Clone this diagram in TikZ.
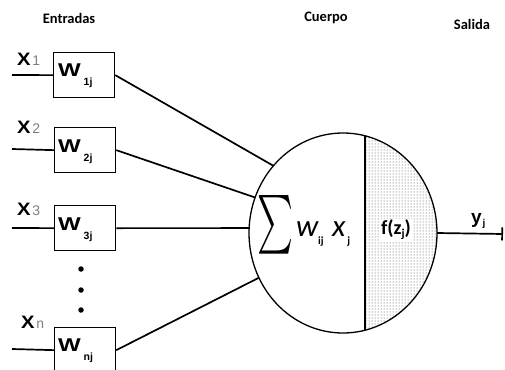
\documentclass[tikz,border=0pt]{standalone}
\usepackage{fontspec}
\usepackage{graphicx}
\setmainfont{Carlito}
\newfontfamily\arialfont{Liberation Sans}
\usetikzlibrary{shapes.geometric,patterns,arrows.meta}

% weight label: wide bold W with a lowered bold subscript
\newcommand\weightlabel[1]{\scalebox{1.3}[1]{\arialfont\bfseries\fontsize{18.5}{18.5}\selectfont W}\hspace{3pt}\raisebox{-9.5pt}{\arialfont\bfseries\fontsize{10.5}{10.5}\selectfont #1}}
% input label: bold X with a grey index
\newcommand\inputlabel[1]{\scalebox{1.12}[1]{\arialfont\bfseries\fontsize{18}{18}\selectfont X}\hspace{2pt}{\color{gray}\arialfont\fontsize{14}{14}\selectfont #1}}

\begin{document}
\begin{tikzpicture}[x=1pt,y=-1pt,
  wire/.style={line width=1.7pt},
  wbox/.style={draw,line width=1.3pt,minimum width=61pt,minimum height=45pt,
    inner sep=0pt,anchor=north west},
  plain/.style={inner sep=0pt,outer sep=0pt,anchor=base west},
  heading/.style={inner sep=0pt,anchor=base,font=\bfseries\fontsize{14.5}{14.5}\selectfont},
  dotmark/.style={circle,fill,inner sep=0pt,minimum size=5.5pt}]
\useasboundingbox (0,0) rectangle (505,369);

% headings
\node[heading] (hin)  at (69,24)  {Entradas};
\node[heading] (hbod) at (326,22) {Cuerpo};
\node[heading] (hout) at (472,30) {Salida};

% weight boxes
\node[wbox] (b1) at (53,52)  {};
\node[wbox] (b2) at (54,127) {};
\node[wbox] (b3) at (54,205) {};
\node[wbox] (bn) at (54,327) {};

\node[plain] (w1) at ([shift={(5,24)}]b1.north west) {\weightlabel{1j}};
\node[plain] (w2) at ([shift={(4,25)}]b2.north west) {\weightlabel{2j}};
\node[plain] (w3) at ([shift={(4,25)}]b3.north west) {\weightlabel{3j}};
\node[plain] (wn) at ([shift={(4,24)}]bn.north west) {\weightlabel{nj}};

% input lines and labels
\coordinate (i1) at (12,75);
\coordinate (i2) at (12,149);
\coordinate (i3) at (12,228);
\coordinate (in) at (12,349);
\draw[wire] (i1) -- (b1.west);
\draw[wire] (i2) -- (b2.west);
\draw[wire] (i3) -- (b3.west);
\draw[wire] (in) -- (bn.west);

\node[plain] (x1) at (17,65)  {\inputlabel{1}};
\node[plain] (x2) at (17,133) {\inputlabel{2}};
\node[plain] (x3) at (17,215) {\inputlabel{3}};
\node[plain] (xn) at (21,328) {\inputlabel{n}};

% vertical ellipsis
\node[dotmark] (d1) at (81,269) {};
\node[dotmark] (d2) at (81,290) {};
\node[dotmark] (d3) at (81,310) {};

% neuron body: right part dotted
\node[ellipse,draw,line width=1.3pt,minimum width=188pt,minimum height=200pt,
  inner sep=0pt,outer sep=0pt,
  path picture={\fill[pattern=dots,pattern color=black!75]
    ([xshift=22pt]path picture bounding box.north) rectangle
    (path picture bounding box.south east);}] (soma) at (343,233) {};
\draw[line width=1.2pt] ([shift={(22,97.2)}]soma.center) -- ([shift={(22,-97.2)}]soma.center);

% weighted sum
\node[inner sep=0pt] (sig) at (275,225) {\resizebox{36pt}{44pt}{$\sum$}};
\node[plain] (wij) at (296,236) {\itshape\fontsize{31}{31}\selectfont w\raisebox{-8pt}{\upshape\bfseries\fontsize{11}{11}\selectfont ij}};
\node[plain] (xj) at (332,236) {\itshape\fontsize{31}{31}\selectfont x\hspace{2pt}\raisebox{-8pt}{\upshape\bfseries\fontsize{11}{11}\selectfont j}};

% activation
\node[fill=white,inner sep=1pt,font=\bfseries\fontsize{20}{20}\selectfont] (act) at (396,230)
  {f(z\raisebox{-3pt}{\fontsize{12}{12}\selectfont j})};

% connections into the body
\draw[wire] (b1.east) -- (soma.136.7);
\draw[wire] (b2.east) -- (soma.158.3);
\draw[wire] (b3.east) -- (soma.177);
\draw[wire] (bn.east) -- (soma.208.9);

% output
\coordinate (yout) at (503,234);
\draw[wire,-{Bar[width=13pt,line width=1.7pt]}] (soma.east) -- (yout);
\node[plain] (ylab) at (471,223) {{\arialfont\bfseries\fontsize{19}{19}\selectfont y}\hspace{1pt}\raisebox{-3pt}{\arialfont\bfseries\fontsize{10}{10}\selectfont j}};
\end{tikzpicture}
\end{document}
